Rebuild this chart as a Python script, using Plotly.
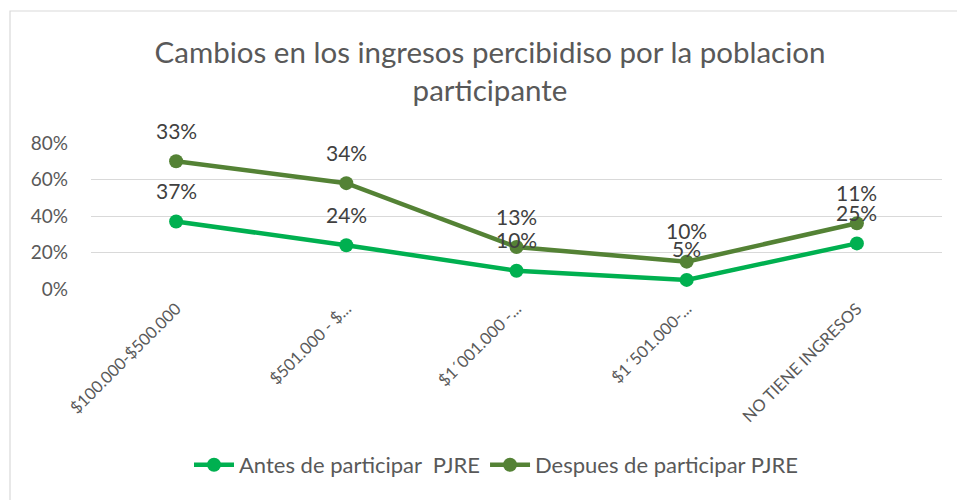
import plotly.graph_objects as go

categories = ["$100.000-$500.000", "$501.000 - $...", "$1´001.000 -...", "$1´501.000-...", "NO TIENE INGRESOS"]
antes = [0.37, 0.24, 0.10, 0.05, 0.25]
despues = [0.33, 0.34, 0.13, 0.10, 0.11]
series_names = ["Antes de participar  PJRE", "Despues de participar PJRE"]
colors = ["#00B050", "#548235"]

stack_top = [a + d for a, d in zip(antes, despues)]

FONT = "Lato, 'Open Sans', sans-serif"
W, H = 957, 500
L, R, T, B = 91, 15, 143, 211

fig = go.Figure()
fig.add_trace(go.Scatter(x=categories, y=antes, name=series_names[0], mode="lines+markers",
                         line=dict(color=colors[0], width=4.5), marker=dict(size=14, color=colors[0])))
fig.add_trace(go.Scatter(x=categories, y=stack_top, name=series_names[1], mode="lines+markers",
                         line=dict(color=colors[1], width=4.5), marker=dict(size=14, color=colors[1])))

for vals, ys in [(antes, antes), (despues, stack_top)]:
    for c, v, y in zip(categories, vals, ys):
        fig.add_annotation(x=c, y=y, xref="x", yref="y", text=f"{round(v*100)}%", showarrow=False,
                           yshift=31, font=dict(size=21, color="#404040", family=FONT))

pw = W - L - R
ph = H - T - B
fig.add_shape(type="rect", xref="paper", yref="paper",
              x0=(10 - L) / pw, x1=(W + 20 - L) / pw,
              y0=(H - B - (H + 20)) / ph, y1=(H - B - 11) / ph,
              line=dict(color="#D9D9D9", width=1.2), layer="below")

fig.update_layout(
    width=W, height=H,
    margin=dict(l=L, r=R, t=T, b=B),
    paper_bgcolor="white", plot_bgcolor="white",
    title=dict(text="Cambios en los ingresos percibidiso por la poblacion<br>participante",
               x=490 / W, xanchor="center", y=1 - 63 / H, yanchor="middle",
               font=dict(size=29.5, color="#595959", family=FONT)),
    showlegend=True,
    legend=dict(orientation="h", x=(496 - L) / pw, xanchor="center", y=(H - B - 465) / ph, yanchor="middle",
                font=dict(size=22, color="#595959", family=FONT), itemwidth=40),
    xaxis=dict(tickangle=-45, showgrid=False, showline=False, ticks="", ticklabelstandoff=6,
               tickfont=dict(size=16.5, color="#595959", family=FONT), range=[-0.5, 4.5]),
    yaxis=dict(range=[0, 0.8], dtick=0.2, tickformat=".0%", showgrid=True, gridcolor="#D9D9D9",
               gridwidth=1.3, zeroline=False, showline=False, ticks="", ticklen=0,
               ticklabelstandoff=22,
               tickfont=dict(size=19, color="#595959", family=FONT)),
)

fig.write_html("out.html", config={"displayModeBar": False},
               post_script="document.body.style.margin='0';")
